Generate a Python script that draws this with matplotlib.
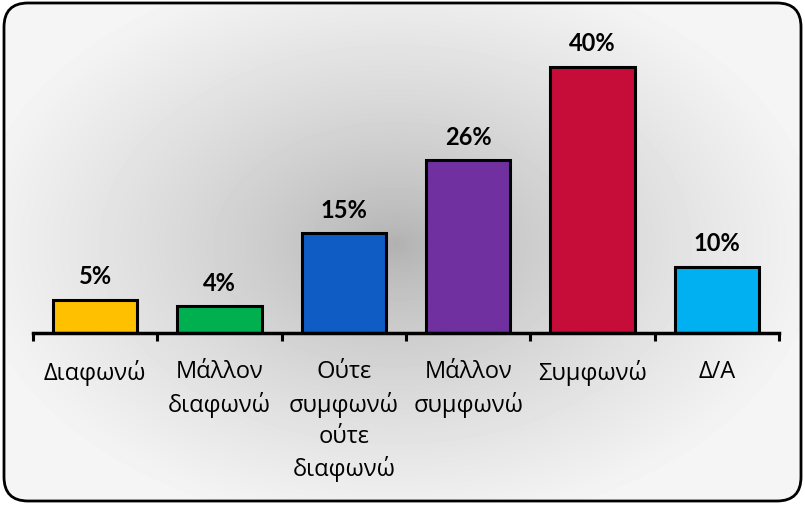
import numpy as np
import matplotlib
matplotlib.use("Agg")
import matplotlib.pyplot as plt
from matplotlib.patches import FancyBboxPatch

categories = ["Διαφωνώ", "Μάλλον\nδιαφωνώ", "Ούτε\nσυμφωνώ\nούτε\nδιαφωνώ", "Μάλλον\nσυμφωνώ", "Συμφωνώ", "Δ/Α"]
values = [5, 4, 15, 26, 40, 10]
labels = ["5%", "4%", "15%", "26%", "40%", "10%"]
colors = ["#FFC000", "#00B050", "#0F5CC4", "#7030A0", "#C60C38", "#00B0F0"]

W, H = 805, 506
fig = plt.figure(figsize=(W / 100, H / 100), dpi=100)
fig.patch.set_facecolor("white")

# background with radial gradient clipped to rounded box
bg = fig.add_axes([0, 0, 1, 1])
bg.set_xlim(0, W)
bg.set_ylim(H, 0)
bg.axis("off")
yy, xx = np.mgrid[0:H, 0:W]
d = np.sqrt(((xx - 395) / 430.0) ** 2 + ((yy - 245) / 290.0) ** 2)
d = np.clip(d, 0, 1)
c = 0.69 + (0.96 - 0.69) * d ** 0.75
img = bg.imshow(c, cmap="gray", vmin=0, vmax=1, extent=(0, W, H, 0), zorder=0, interpolation="bilinear")
box = FancyBboxPatch((4, 4), W - 8, H - 8, boxstyle="round,pad=0,rounding_size=24",
                     facecolor="none", edgecolor="black", linewidth=2.0, zorder=2)
bg.add_patch(box)
img.set_clip_path(box)

axis_y = 334
px_per_pct = 6.65
ymax = 45
ax_h = ymax * px_per_pct
ax = fig.add_axes([33 / W, (H - axis_y) / H, (779 - 33) / W, ax_h / H])
ax.patch.set_alpha(0)
x = np.arange(len(values))
bars = ax.bar(x, values, width=0.68, color=colors, edgecolor="black", linewidth=2.2, zorder=3)
ax.set_xlim(-0.5, len(values) - 0.5)
ax.set_ylim(0, ymax)
for s in ["top", "right", "left"]:
    ax.spines[s].set_visible(False)
ax.spines["bottom"].set_linewidth(2.5)
ax.spines["bottom"].set_zorder(4)
ax.set_yticks([])
ax.set_xticks(x)
ax.set_xticklabels(categories, fontfamily="Open Sans", fontsize=17, linespacing=1.38, va="top")
ax.tick_params(axis="x", which="major", length=0, pad=19)
ax.set_xticks(np.arange(-0.5, len(values), 1.0), minor=True)
ax.tick_params(axis="x", which="minor", length=6, width=2.2, direction="out")

for xi, v, lab in zip(x, values, labels):
    ax.annotate(lab, (xi, v), xytext=(0, 9), textcoords="offset points",
                ha="center", va="bottom", fontfamily="Lato", fontweight="bold", fontsize=17)

fig.savefig("out.png", dpi=100)
